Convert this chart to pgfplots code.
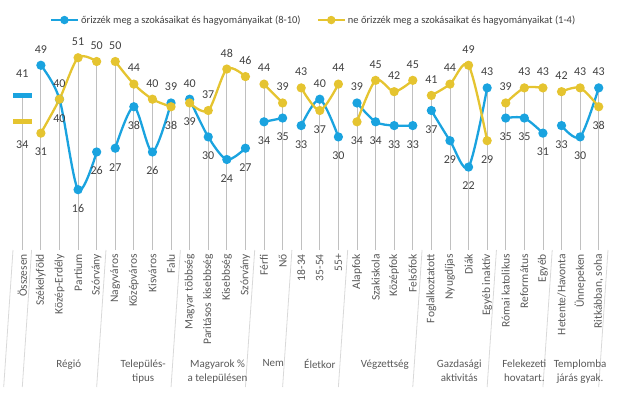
\documentclass[border=0pt]{standalone}
\usepackage{pgfplots}
\pgfplotsset{compat=1.18}
\usepackage{pgfplotstable}
\usepackage{fontspec}
\setmainfont{Carlito}
\definecolor{bl}{HTML}{1AA3DF}
\definecolor{yl}{HTML}{E5C430}
\definecolor{lbl}{HTML}{404040}
\definecolor{tck}{HTML}{595959}
\definecolor{drop}{HTML}{C0C0C0}
\definecolor{sep}{HTML}{D9D9D9}

\pgfplotstableread{
x b y m bs ys
1 41 34 41 22 -23
2 49 31 49 16 -19
3 40 40 40 16 -19
4 16 51 51 -19 16
5 26 50 50 -19 16
6 27 50 50 -19 16
7 38 44 44 -19 16
8 26 40 40 -19 16
9 39 38 39 16 -19
10 40 39 40 16 -19
11 30 37 37 -19 16
12 24 48 48 -19 16
13 27 46 46 -19 16
14 34 44 44 -19 16
15 35 39 39 -19 16
16 33 43 43 -19 16
17 40 37 40 16 -19
18 30 44 44 -19 16
19 39 34 39 16 -19
20 34 45 45 -19 16
21 33 42 42 -19 16
22 33 45 45 -19 16
23 37 41 41 -19 16
24 29 44 44 -19 16
25 22 49 49 -19 16
26 43 29 43 16 -19
27 35 39 39 -19 16
28 35 43 43 -19 16
29 31 43 43 -19 16
30 33 42 42 -19 16
31 30 43 43 -19 16
32 43 38 43 16 -19
}\data

\newcommand\grp[2]{%
\addplot[bl, line width=2.3pt, smooth, mark=*, mark size=3.4pt, restrict x to domain=#1:#2, forget plot] table[x=x,y=b]{\data};
\addplot[yl, line width=2.3pt, smooth, mark=*, mark size=3.4pt, restrict x to domain=#1:#2, forget plot] table[x=x,y=y]{\data};
}

\begin{document}
\begin{tikzpicture}
\begin{axis}[
  scale only axis, width=595pt, height=218.66pt,
  xmin=0.5, xmax=32.5, ymin=0, ymax=58,
  axis line style={draw=none}, tick style={draw=none},
  ytick=\empty,
  xtick={1,...,32},
  xticklabels={Összesen,Székelyföld,Közép-Erdély,Partium,Szórvány,Nagyváros,Középváros,Kisváros,Falu,Magyar többség,Paritásos kisebbség,Kisebbség,Szórvány,Férfi,Nő,18-34,35-54,55+,Alapfok,Szakiskola,Középfok,Felsőfok,Foglalkoztatott,Nyugdíjas,Diák,Egyéb inaktív,Római katolikus,Református,Egyéb,Hetente/Havonta,Ünnepeken,{Ritkábban, soha}},
  xticklabel style={rotate=90, anchor=east, font=\fontsize{11.5}{13}\selectfont, text=tck, inner sep=1pt},
  xticklabel shift=3pt,
  clip=false,
  /pgf/number format/assume math mode=true,
  legend columns=2,
  legend style={at={(0.5,1)}, anchor=center, xshift=3pt, yshift=11.3pt, draw=none, fill=none,
    font=\fontsize{10.5}{12}\selectfont, text=lbl,
    /tikz/every even column/.append style={column sep=14pt}},
  legend image code/.code={\draw[mark repeat=2,mark phase=2,#1] plot coordinates {(0pt,0pt) (13.5pt,0pt) (27pt,0pt)};},
]
\addlegendimage{bl, line width=2.3pt, mark=*, mark size=3pt}
\addlegendentry{őrizzék meg a szokásaikat és hagyományaikat (8-10)}
\addlegendimage{yl, line width=2.3pt, mark=*, mark size=3pt}
\addlegendentry{ne őrizzék meg a szokásaikat és hagyományaikat (1-4)}

\addplot[ycomb, draw=drop, line width=0.8pt, no marks, forget plot] table[x=x,y=m]{\data};

\pgfplotsinvokeforeach{0.5,1.5,5.5,9.5,13.5,15.5,18.5,22.5,26.5,29.5,32.5}{
  \draw[sep, line width=0.8pt] (axis cs:#1,0) -- ++(0,-137pt);
}

\addplot[only marks, mark=-, mark size=9.5pt, mark options={line width=5pt, draw=bl}, forget plot] table[x=x,y=b, restrict x to domain=1:1]{\data};
\addplot[only marks, mark=-, mark size=9.5pt, mark options={line width=5pt, draw=yl}, forget plot] table[x=x,y=y, restrict x to domain=1:1]{\data};

\grp{2}{5}
\grp{6}{9}
\grp{10}{13}
\grp{14}{15}
\grp{16}{18}
\grp{19}{22}
\grp{23}{26}
\grp{27}{29}
\grp{30}{32}

\addplot[draw=none, no marks, forget plot, nodes near coords,
  visualization depends on={\thisrow{bs}\as\sh},
  every node near coord/.append style={anchor=center, yshift=\sh*1pt, font=\fontsize{12}{14}\selectfont, text=lbl}]
  table[x=x,y=b]{\data};
\addplot[draw=none, no marks, forget plot, nodes near coords,
  visualization depends on={\thisrow{ys}\as\sh},
  every node near coord/.append style={anchor=center, yshift=\sh*1pt, font=\fontsize{12}{14}\selectfont, text=lbl}]
  table[x=x,y=y]{\data};

\begin{scope}[every node/.style={anchor=north, align=center, font=\fontsize{11}{14}\selectfont, text=tck}]
\node[yshift=-106pt] at (axis cs:3.5,0) {Régió};
\node[yshift=-106pt] at (axis cs:7.5,0) {Település-\\tipus};
\node[yshift=-106pt] at (axis cs:11.5,0) {Magyarok \%\\a településen};
\node[yshift=-106pt] at (axis cs:14.5,0) {Nem};
\node[yshift=-106pt] at (axis cs:17,0) {Életkor};
\node[yshift=-106pt] at (axis cs:20.5,0) {Végzettség};
\node[yshift=-106pt] at (axis cs:24.5,0) {Gazdasági\\aktivitás};
\node[yshift=-106pt] at (axis cs:28,0) {Felekezeti\\hovatart.};
\node[yshift=-106pt] at (axis cs:31,0) {Templomba\\járás gyak.};
\end{scope}
\coordinate (O) at (rel axis cs:0,0);
\end{axis}
\pgfresetboundingbox
\path (O) ++(-13pt,-144pt) rectangle ++(631pt,394pt);
\end{tikzpicture}
\end{document}
